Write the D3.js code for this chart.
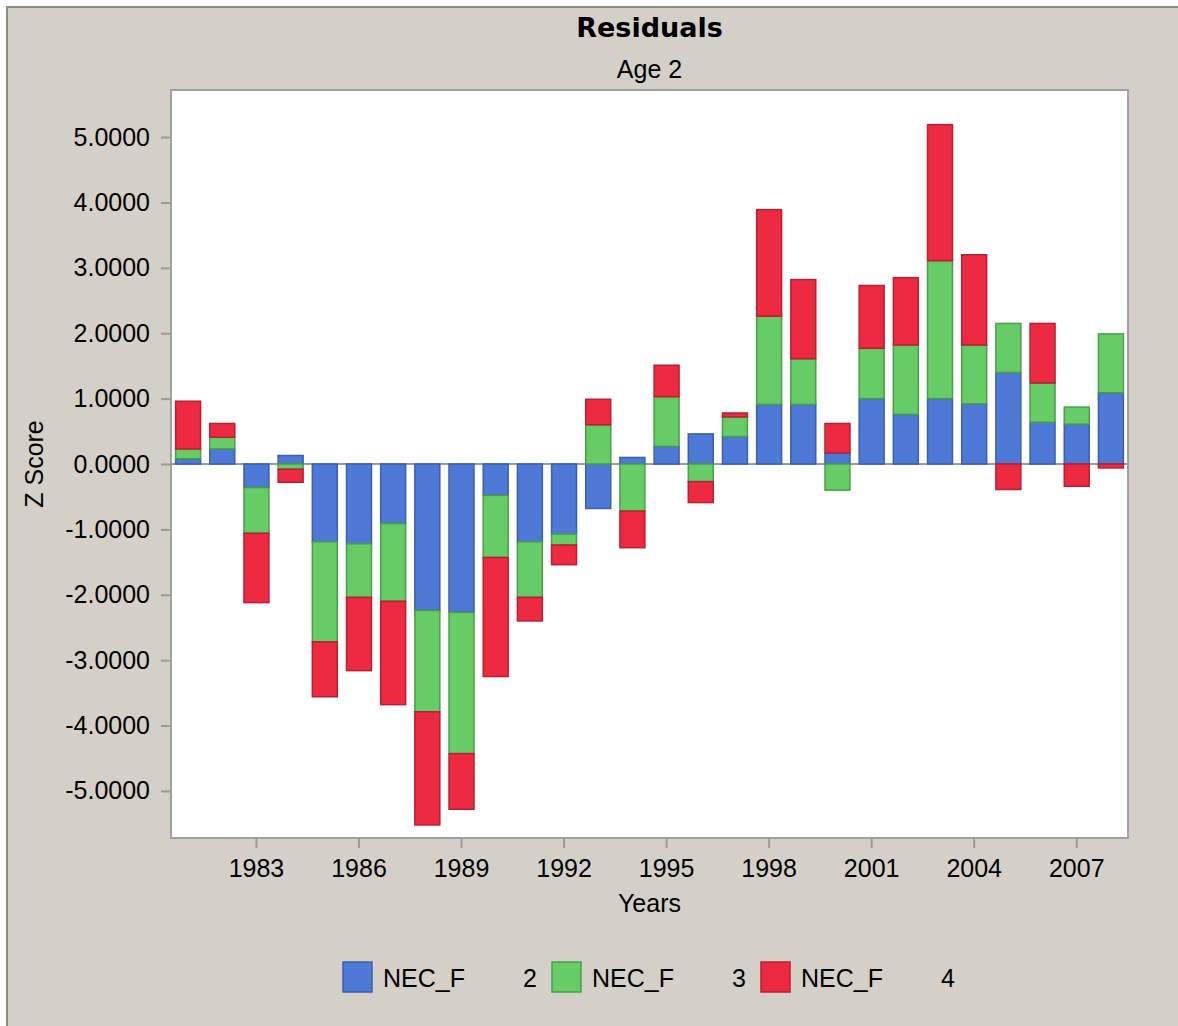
<!DOCTYPE html>
<html>
<head>
<meta charset="utf-8">
<script src="https://cdn.jsdelivr.net/npm/d3@7"></script>
<style>
body {margin:0; background:#ffffff;}
text {font-family:"Liberation Sans", Arial, sans-serif; fill:#000;}
</style>
</head>
<body>
<svg id="chart" width="1178" height="1026"></svg>
<script>
// residuals by year, one array per series (stacked)
var years = [1981,1982,1983,1984,1985,1986,1987,1988,1989,1990,1991,1992,1993,1994,
             1995,1996,1997,1998,1999,2000,2001,2002,2003,2004,2005,2006,2007,2008];
var nec2 = [0.08,0.23,-0.36,0.13,-1.19,-1.22,-0.91,-2.24,-2.27,-0.48,-1.19,-1.07,-0.68,0.10,
            0.27,0.46,0.42,0.91,0.91,0.17,1.00,0.76,1.00,0.92,1.40,0.64,0.61,1.09];
var nec3 = [0.15,0.18,-0.70,-0.08,-1.53,-0.82,-1.19,-1.55,-2.16,-0.95,-0.85,-0.17,0.60,-0.72,
            0.76,-0.27,0.30,1.35,0.70,-0.40,0.77,1.06,2.11,0.90,0.75,0.60,0.26,0.90];
var nec4 = [0.73,0.21,-1.06,-0.20,-0.84,-1.12,-1.58,-1.73,-0.85,-1.82,-0.36,-0.30,0.39,-0.56,
            0.48,-0.32,0.06,1.63,1.21,0.45,0.96,1.03,2.08,1.38,-0.39,0.91,-0.34,-0.06];
var seriesKeys = ["NEC_F 2","NEC_F 3","NEC_F 4"];
var seriesNames = ["NEC_F","NEC_F","NEC_F"];
var seriesNums = ["2","3","4"];
var yTicks = [-5,-4,-3,-2,-1,0,1,2,3,4,5];
var xTicks = [1983,1986,1989,1992,1995,1998,2001,2004,2007];

var fills = ["#4f79d6","#66cc66","#ee2a43"];
var strokes = ["#3b5fae","#4a9e4a","#b81f31"];

var svg = d3.select("#chart");
var pLeft = 171, pRight = 1128, pTop = 90, pBottom = 838;

// grey panel
svg.append("rect").attr("x",7).attr("y",7).attr("width",1200).attr("height",1100)
	.attr("fill","#d4d0c8");
svg.append("path").attr("d","M7,1026V7H1178").attr("fill","none")
	.attr("stroke","#8a8a8a").attr("stroke-width",2);

var rows = years.map(function(y,i){
	return {year:y, "NEC_F 2":nec2[i], "NEC_F 3":nec3[i], "NEC_F 4":nec4[i]};});

var stacked = d3.stack().keys(seriesKeys).offset(d3.stackOffsetDiverging)(rows);

var x = d3.scaleBand().domain(years).range([pLeft,pRight]).paddingInner(0.27).paddingOuter(0.135);
var y = d3.scaleLinear().domain([-5.72,5.72]).range([pBottom,pTop]);

svg.append("rect")
	.attr("x",pLeft).attr("y",pTop).attr("width",pRight-pLeft).attr("height",pBottom-pTop)
	.attr("fill","#ffffff");

// zero line
svg.append("line")
	.attr("x1",pLeft).attr("x2",pRight).attr("y1",y(0)).attr("y2",y(0))
	.attr("stroke","#9a9a9a").attr("stroke-width",2);

svg.selectAll("g.series")
	.data(stacked)
	.enter().append("g")
	.attr("class","series")
	.attr("fill",function(d,i){return fills[i];})
	.attr("stroke",function(d,i){return strokes[i];})
	.attr("stroke-width",1.5)
	.selectAll("rect")
	.data(function(d){return d;})
	.enter().append("rect")
	.attr("x",function(d){return x(d.data.year);})
	.attr("width",x.bandwidth())
	.attr("y",function(d){return y(Math.max(d[0],d[1]));})
	.attr("height",function(d){return Math.abs(y(d[0])-y(d[1]));});

// frame
svg.append("rect")
	.attr("x",pLeft).attr("y",pTop).attr("width",pRight-pLeft).attr("height",pBottom-pTop)
	.attr("fill","none").attr("stroke","#a0a0a0").attr("stroke-width",2);

var yAxis = svg.append("g")
	.attr("transform","translate("+pLeft+",0)")
	.call(d3.axisLeft(y).tickValues(yTicks).tickSize(10).tickPadding(11)
		.tickFormat(function(v){return v.toFixed(4);}));
var xAxis = svg.append("g")
	.attr("transform","translate(0,"+pBottom+")")
	.call(d3.axisBottom(x).tickValues(xTicks).tickSize(10).tickPadding(11));

svg.selectAll(".domain").remove();
svg.selectAll(".tick line").attr("stroke","#9a9a9a").attr("stroke-width",2);
svg.selectAll(".tick text")
	.style("font-family",'"Liberation Sans", Arial, sans-serif')
	.style("font-size","25px").attr("fill","#111");

// titles
svg.append("text").attr("x",(pLeft+pRight)/2).attr("y",37)
	.attr("text-anchor","middle")
	.style("font-family",'"DejaVu Sans", sans-serif').style("font-weight","bold").style("font-size","27px")
	.text("Residuals");
svg.append("text").attr("x",(pLeft+pRight)/2).attr("y",78)
	.attr("text-anchor","middle").style("font-size","25px")
	.text("Age 2");
svg.append("text").attr("x",(pLeft+pRight)/2).attr("y",912)
	.attr("text-anchor","middle").style("font-size","25px")
	.text("Years");
svg.append("text")
	.attr("transform","translate(43,"+y(0)+") rotate(-90)")
	.attr("text-anchor","middle").style("font-size","25px")
	.text("Z Score");

// legend
var legend = svg.selectAll("g.legend")
	.data(seriesKeys)
	.enter().append("g")
	.attr("class","legend")
	.attr("transform",function(d,i){return "translate("+(343+i*209)+",962)";});
legend.append("rect")
	.attr("width",29).attr("height",30)
	.attr("fill",function(d,i){return fills[i];})
	.attr("stroke",function(d,i){return strokes[i];})
	.attr("stroke-width",1.5);
legend.append("text").attr("x",40).attr("y",25).style("font-size","25px")
	.text(function(d,i){return seriesNames[i];});
legend.append("text").attr("x",194).attr("y",25).attr("text-anchor","end").style("font-size","25px")
	.text(function(d,i){return seriesNums[i];});
</script>
</body>
</html>
